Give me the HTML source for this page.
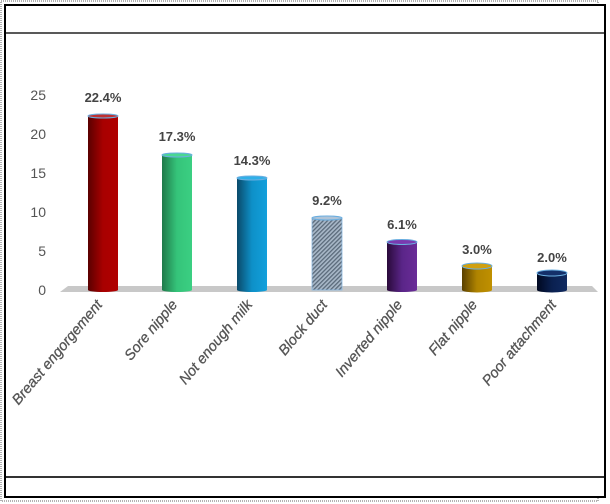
<!DOCTYPE html>
<html><head><meta charset="utf-8"><style>
html,body{margin:0;padding:0;background:#fff;}
svg{display:block;font-family:"Liberation Sans",sans-serif;}
</style></head><body>
<svg width="610" height="504" viewBox="0 0 610 504" xmlns="http://www.w3.org/2000/svg">
<defs>
<linearGradient id="g0" x1="0" x2="1"><stop offset="0" stop-color="#5a0000"/><stop offset="0.5" stop-color="#a80000"/><stop offset="1" stop-color="#b00000"/></linearGradient>
<linearGradient id="g1" x1="0" x2="1"><stop offset="0" stop-color="#1f7a4a"/><stop offset="0.5" stop-color="#35c47a"/><stop offset="1" stop-color="#3bcf82"/></linearGradient>
<linearGradient id="g2" x1="0" x2="1"><stop offset="0" stop-color="#0a4a6a"/><stop offset="0.5" stop-color="#0e90c8"/><stop offset="1" stop-color="#12a0dc"/></linearGradient>
<pattern id="hatch" width="3" height="3" patternUnits="userSpaceOnUse" patternTransform="rotate(45)"><rect width="3" height="3" fill="#a8b8c8"/><rect width="1.3" height="3" fill="#5a6a7a"/></pattern>
<linearGradient id="g4" x1="0" x2="1"><stop offset="0" stop-color="#2a0a3a"/><stop offset="0.5" stop-color="#5a2588"/><stop offset="1" stop-color="#6a2c98"/></linearGradient>
<linearGradient id="g5" x1="0" x2="1"><stop offset="0" stop-color="#5a4000"/><stop offset="0.5" stop-color="#b08400"/><stop offset="1" stop-color="#c09000"/></linearGradient>
<linearGradient id="g6" x1="0" x2="1"><stop offset="0" stop-color="#000820"/><stop offset="0.5" stop-color="#0a2050"/><stop offset="1" stop-color="#102a60"/></linearGradient>
</defs>
<rect x="1" y="1" width="597" height="500" fill="none" stroke="#666" stroke-dasharray="1,1"/>
<rect x="5" y="5" width="600" height="492" fill="#fff" stroke="#000" stroke-width="2"/>
<line x1="6" y1="33" x2="604" y2="33" stroke="#222" stroke-width="1.5"/>
<line x1="6" y1="477" x2="604" y2="477" stroke="#333" stroke-width="2"/>
<g fill="#555" font-size="14" text-anchor="end">
<text x="46" y="100">25</text><text x="46" y="139">20</text><text x="46" y="178">15</text>
<text x="46" y="217">10</text><text x="46" y="256">5</text><text x="46" y="295">0</text>
</g>
<polygon points="68,286 592,286 598,292 60,292" fill="#c8c8c8"/>
<g id="bars">
<rect x="88" y="116" width="30" height="174" fill="url(#g0)"/><ellipse cx="103" cy="116" rx="15" ry="2" fill="#c03030" stroke="#6aaee0"/><ellipse cx="103" cy="290" rx="15" ry="2" fill="url(#g0)"/>
<rect x="162" y="155" width="30" height="135" fill="url(#g1)"/><ellipse cx="177" cy="155" rx="15" ry="2" fill="#4ad890" stroke="#6aaee0"/><ellipse cx="177" cy="290" rx="15" ry="2" fill="url(#g1)"/>
<rect x="237" y="178" width="30" height="112" fill="url(#g2)"/><ellipse cx="252" cy="178" rx="15" ry="2" fill="#30b0e8" stroke="#6aaee0"/><ellipse cx="252" cy="290" rx="15" ry="2" fill="url(#g2)"/>
<rect x="312" y="218" width="30" height="72" fill="url(#hatch)" stroke="#8ab8e0" stroke-width="0.8"/><ellipse cx="327" cy="218" rx="15" ry="2" fill="#b0c4d8" stroke="#6aaee0"/>
<rect x="387" y="242" width="30" height="48" fill="url(#g4)"/><ellipse cx="402" cy="242" rx="15" ry="2.5" fill="#7a3ab0" stroke="#6aaee0"/><ellipse cx="402" cy="290" rx="15" ry="2" fill="url(#g4)"/>
<rect x="462" y="266" width="30" height="24" fill="url(#g5)"/><ellipse cx="477" cy="266" rx="15" ry="3" fill="#d0a010" stroke="#6aaee0"/><ellipse cx="477" cy="290" rx="15" ry="2.5" fill="url(#g5)"/>
<rect x="537" y="273" width="30" height="17" fill="url(#g6)"/><ellipse cx="552" cy="273" rx="15" ry="3" fill="#14306a" stroke="#6aaee0"/><ellipse cx="552" cy="290" rx="15" ry="2.5" fill="url(#g6)"/>
</g>
<g fill="#444" font-size="13" text-anchor="middle" font-weight="bold">
<text x="103" y="102">22.4%</text><text x="177" y="141">17.3%</text><text x="252" y="165">14.3%</text>
<text x="327" y="205">9.2%</text><text x="402" y="229">6.1%</text><text x="477" y="254">3.0%</text><text x="552" y="262">2.0%</text>
</g>
<g fill="#555" font-size="14.5" font-style="italic" text-anchor="end" stroke="#555" stroke-width="0.3">
<text transform="translate(103,305) rotate(-50)">Breast engorgement</text>
<text transform="translate(178,305) rotate(-50)">Sore nipple</text>
<text transform="translate(253,305) rotate(-50)">Not enough milk</text>
<text transform="translate(328,305) rotate(-50)">Block duct</text>
<text transform="translate(403,305) rotate(-50)">Inverted nipple</text>
<text transform="translate(478,305) rotate(-50)">Flat nipple</text>
<text transform="translate(557,305) rotate(-50)">Poor attachment</text>
</g>
</svg>
</body></html>
